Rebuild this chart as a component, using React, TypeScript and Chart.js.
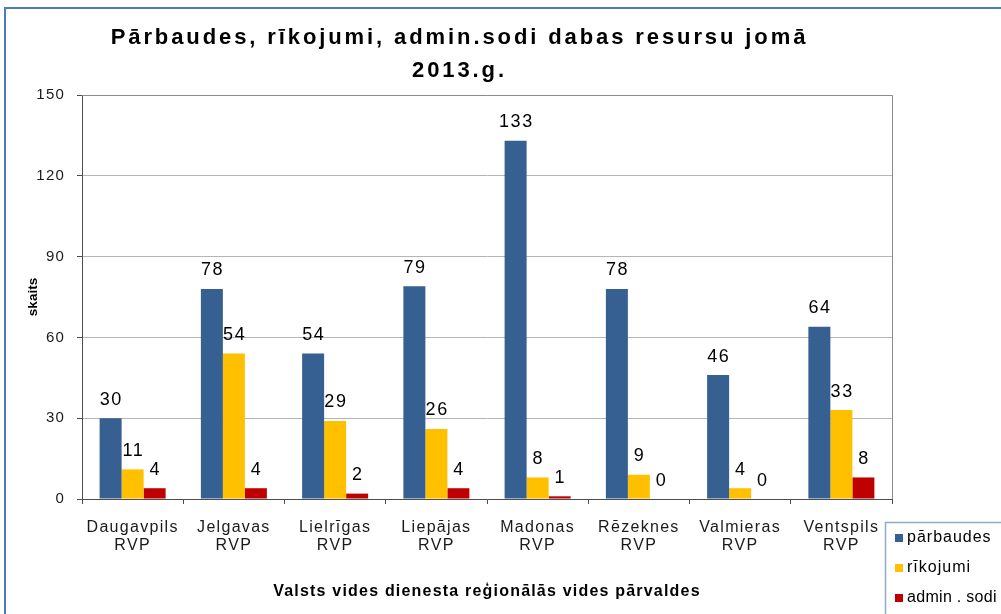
import { useEffect, useRef } from "react";
import { Chart, registerables } from "chart.js";

Chart.register(...registerables);

const categories: string[][] = [
  ["Daugavpils", "RVP"],
  ["Jelgavas", "RVP"],
  ["Lielrīgas", "RVP"],
  ["Liepājas", "RVP"],
  ["Madonas", "RVP"],
  ["Rēzeknes", "RVP"],
  ["Valmieras", "RVP"],
  ["Ventspils", "RVP"],
];
const seriesNames = ["pārbaudes", "rīkojumi", "admin . sodi"];
const parbaudes = [30, 78, 54, 79, 133, 78, 46, 64];
const rikojumi = [11, 54, 29, 26, 8, 9, 4, 33];
const adminSodi = [4, 4, 2, 4, 1, 0, 0, 8];
const seriesColors = ["#376092", "#FFC000", "#C00000"];
const yMin = 0;
const yMax = 150;
const yStep = 30;
const titleLines = ["Pārbaudes, rīkojumi, admin.sodi dabas resursu jomā", "2013.g."];
const yTitle = "skaits";
const xTitle = "Valsts vides dienesta reģionālās vides pārvaldes";

const FONT = "'Liberation Sans', Arial, sans-serif";

function patchScale(scale: any, labelSpacing: string, titleSpacing: string) {
  if (!scale || scale.__patched) return;
  scale.__patched = true;
  const origLabels = scale.drawLabels;
  const origTitle = scale.drawTitle;
  scale.drawLabels = function (area: any) {
    const c = this.ctx;
    const prev = c.letterSpacing;
    c.letterSpacing = labelSpacing;
    origLabels.call(this, area);
    c.letterSpacing = prev;
  };
  scale.drawTitle = function () {
    const c = this.ctx;
    const prev = c.letterSpacing;
    c.letterSpacing = titleSpacing;
    origTitle.call(this);
    c.letterSpacing = prev;
  };
}

const legendSpacing = ["1px", "1px", "0.3px"];

const decorPlugin = {
  id: "decor",
  beforeDraw(chart: any) {
    patchScale(chart.scales.x, "1.3px", "1.2px");
    patchScale(chart.scales.y, "1.2px", "0px");
    const ctx = chart.ctx;
    ctx.save();
    ctx.fillStyle = "#ffffff";
    ctx.fillRect(0, 0, chart.width, chart.height);
    ctx.strokeStyle = "#4a7ebb";
    ctx.lineWidth = 2;
    ctx.strokeRect(5, 8, chart.width + 20, chart.height + 20);
    ctx.restore();
  },
  afterDraw(chart: any) {
    const ctx = chart.ctx;
    const a = chart.chartArea;
    ctx.save();
    ctx.strokeStyle = "#8c8c8c";
    ctx.lineWidth = 1;
    ctx.beginPath();
    ctx.moveTo(a.left, a.top + 0.5);
    ctx.lineTo(a.right + 0.5, a.top + 0.5);
    ctx.lineTo(a.right + 0.5, a.bottom);
    ctx.stroke();

    // title
    ctx.fillStyle = "#000000";
    ctx.font = `bold 22px ${FONT}`;
    ctx.letterSpacing = "2.9px";
    ctx.textAlign = "center";
    ctx.textBaseline = "alphabetic";
    titleLines.forEach((t, i) => ctx.fillText(t, 459.5, 44 + i * 33));

    // data labels
    ctx.font = `18px ${FONT}`;
    ctx.letterSpacing = "1.5px";
    chart.data.datasets.forEach((ds: any, di: number) => {
      const meta = chart.getDatasetMeta(di);
      meta.data.forEach((bar: any, i: number) => {
        ctx.fillText(String(ds.data[i]), bar.x + 0.75, bar.y - 13.5);
      });
    });

    // legend
    ctx.strokeStyle = "#8eaacc";
    ctx.lineWidth = 1.5;
    ctx.strokeRect(885.5, 522.5, 140, 110);
    ctx.font = `16px ${FONT}`;
    ctx.textAlign = "left";
    ctx.textBaseline = "middle";
    seriesNames.forEach((n, i) => {
      const cy = 538 + i * 30;
      ctx.fillStyle = seriesColors[i];
      ctx.fillRect(895, cy - 4, 8, 8);
      ctx.fillStyle = "#000000";
      ctx.letterSpacing = legendSpacing[i];
      ctx.fillText(n, 907, cy);
    });
    ctx.letterSpacing = "0px";
    ctx.restore();
  },
};

export default function App() {
  const ref = useRef<HTMLCanvasElement>(null);
  useEffect(() => {
    document.body.style.margin = "0";
    const chart = new Chart(ref.current as HTMLCanvasElement, {
      type: "bar",
      data: {
        labels: categories,
        datasets: [
          { label: seriesNames[0], data: parbaudes, backgroundColor: seriesColors[0] },
          { label: seriesNames[1], data: rikojumi, backgroundColor: seriesColors[1] },
          { label: seriesNames[2], data: adminSodi, backgroundColor: seriesColors[2] },
        ],
      },
      options: {
        responsive: false,
        animation: false,
        devicePixelRatio: 1,
        datasets: { bar: { categoryPercentage: 0.652, barPercentage: 1, borderWidth: 0 } },
        layout: { padding: { left: 0, top: 95, right: 109, bottom: 0 } },
        plugins: { legend: { display: false }, title: { display: false }, tooltip: { enabled: false } },
        scales: {
          x: {
            grid: {
              display: true,
              drawOnChartArea: false,
              drawTicks: true,
              tickLength: 5,
              tickColor: "#4d4d4d",
              offset: true,
            },
            border: { display: true, color: "#4d4d4d", width: 1 },
            ticks: {
              font: { family: FONT, size: 16, lineHeight: 1.15 },
              color: "#1a1a1a",
              padding: 14,
              maxRotation: 0,
              autoSkip: false,
            },
            title: {
              display: true,
              text: xTitle,
              font: { family: FONT, size: 16, weight: "bold" },
              color: "#000000",
              padding: { top: 0, bottom: 13 },
            },
            afterFit: (s: any) => {
              s.height = 115;
            },
          },
          y: {
            min: yMin,
            max: yMax,
            ticks: {
              stepSize: yStep,
              font: { family: FONT, size: 15 },
              color: "#1a1a1a",
              padding: 12,
            },
            grid: {
              color: "#b5b5b5",
              tickColor: "#4d4d4d",
              tickLength: 5,
            },
            border: { display: true, color: "#4d4d4d", width: 1 },
            title: {
              display: true,
              text: yTitle,
              font: { family: FONT, size: 13.5, weight: "bold" },
              color: "#000000",
              padding: { top: 25, bottom: 0 },
            },
            afterFit: (s: any) => {
              s.width = 82;
            },
          },
        },
      },
      plugins: [decorPlugin],
    } as any);
    return () => chart.destroy();
  }, []);
  return (
    <div style={{ width: 1001, height: 614 }}>
      <canvas ref={ref} width={1001} height={614} style={{ display: "block" }} />
    </div>
  );
}
